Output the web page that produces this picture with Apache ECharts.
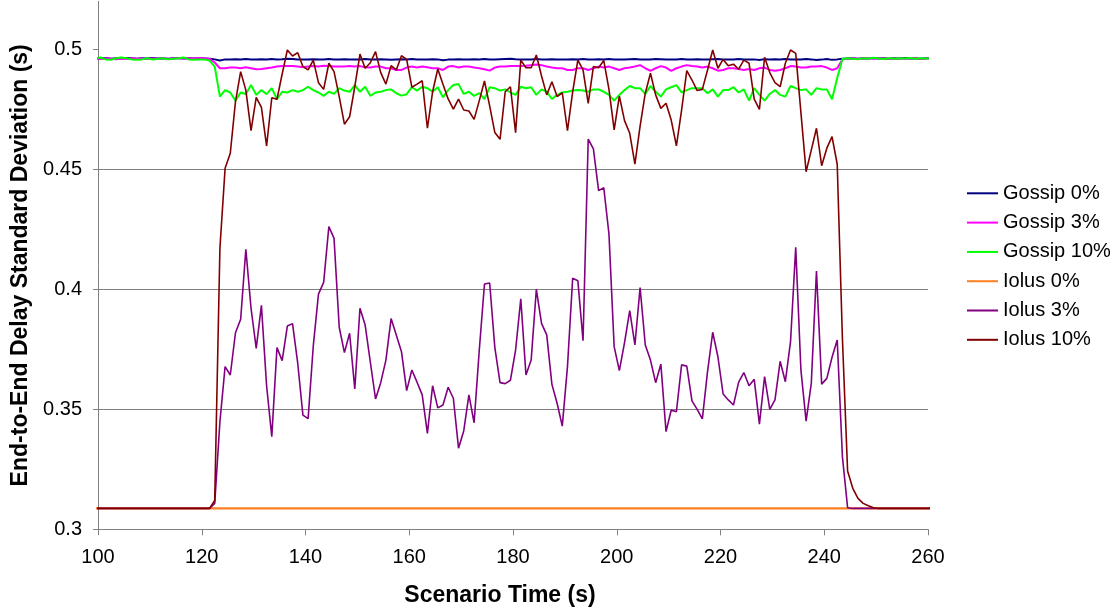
<!DOCTYPE html>
<html><head><meta charset="utf-8">
<script src="https://cdn.jsdelivr.net/npm/echarts@6/dist/echarts.min.js"></script>
<style>html,body{margin:0;padding:0;background:#fff}#c{width:1119px;height:615px}</style>
</head><body><div id="c"></div>
<script>
// sampling: one value per second, first sample at t0
const t0 = 99.5, dt = 1;
const xTicks = [100, 120, 140, 160, 180, 200, 220, 240, 260];
const yTicks = [0.3, 0.35, 0.4, 0.45, 0.5];
const seriesNames = ['Gossip 0%', 'Gossip 3%', 'Gossip 10%', 'Iolus 0%', 'Iolus 3%', 'Iolus 10%'];

const gossip0 = [0.4963,
0.4962,0.4964,0.4961,0.4963,0.4962,0.4964,0.4963,0.4961,0.4963,0.4962,
0.4964,0.4962,0.4963,0.4961,0.4963,0.4964,0.4962,0.4963,0.4962,0.4963,
0.4962,0.4961,0.4958,0.4953,0.4958,0.4957,0.4959,0.4958,0.4960,0.4958,
0.4957,0.4959,0.4958,0.4960,0.4958,0.4959,0.4961,0.4960,0.4958,0.4957,
0.4958,0.4959,0.4957,0.4958,0.4960,0.4958,0.4957,0.4959,0.4958,0.4957,
0.4958,0.4960,0.4958,0.4957,0.4959,0.4958,0.4956,0.4958,0.4959,0.4958,
0.4960,0.4958,0.4957,0.4958,0.4959,0.4958,0.4954,0.4957,0.4958,0.4959,
0.4958,0.4957,0.4959,0.4958,0.4960,0.4958,0.4957,0.4959,0.4960,0.4961,
0.4959,0.4958,0.4957,0.4958,0.4960,0.4958,0.4957,0.4959,0.4958,0.4957,
0.4958,0.4959,0.4958,0.4960,0.4958,0.4957,0.4959,0.4958,0.4960,0.4958,
0.4957,0.4958,0.4959,0.4960,0.4958,0.4957,0.4958,0.4960,0.4959,0.4958,
0.4957,0.4958,0.4960,0.4958,0.4957,0.4959,0.4958,0.4957,0.4959,0.4960,
0.4958,0.4957,0.4958,0.4960,0.4958,0.4957,0.4958,0.4955,0.4959,0.4958,
0.4959,0.4958,0.4960,0.4958,0.4957,0.4958,0.4960,0.4958,0.4955,0.4957,
0.4960,0.4956,0.4958,0.4961,0.4962,0.4963,0.4961,0.4963,0.4962,0.4964,
0.4962,0.4963,0.4961,0.4963,0.4962,0.4964,0.4962,0.4963,0.4961,0.4963,
0.4962];

const gossip3 = [0.4962,
0.4960,0.4963,0.4961,0.4959,0.4962,0.4960,0.4963,0.4961,0.4962,0.4960,
0.4962,0.4961,0.4963,0.4960,0.4962,0.4964,0.4961,0.4963,0.4962,0.4964,
0.4963,0.4960,0.4945,0.4921,0.4921,0.4924,0.4924,0.4921,0.4925,0.4921,
0.4917,0.4918,0.4921,0.4924,0.4928,0.4930,0.4930,0.4930,0.4928,0.4925,
0.4928,0.4930,0.4928,0.4931,0.4930,0.4928,0.4928,0.4928,0.4930,0.4928,
0.4930,0.4925,0.4924,0.4928,0.4928,0.4921,0.4921,0.4914,0.4914,0.4924,
0.4928,0.4924,0.4928,0.4925,0.4921,0.4921,0.4914,0.4928,0.4930,0.4924,
0.4928,0.4928,0.4924,0.4921,0.4917,0.4911,0.4924,0.4928,0.4928,0.4930,
0.4930,0.4930,0.4931,0.4934,0.4937,0.4934,0.4928,0.4924,0.4921,0.4921,
0.4914,0.4914,0.4921,0.4921,0.4914,0.4921,0.4928,0.4924,0.4928,0.4921,
0.4914,0.4921,0.4924,0.4928,0.4934,0.4921,0.4910,0.4921,0.4930,0.4924,
0.4910,0.4921,0.4928,0.4934,0.4930,0.4928,0.4924,0.4928,0.4921,0.4911,
0.4914,0.4921,0.4921,0.4918,0.4914,0.4918,0.4914,0.4921,0.4924,0.4914,
0.4911,0.4914,0.4921,0.4930,0.4928,0.4924,0.4924,0.4928,0.4928,0.4930,
0.4924,0.4914,0.4921,0.4958,0.4961,0.4963,0.4960,0.4962,0.4964,0.4961,
0.4963,0.4961,0.4962,0.4960,0.4963,0.4961,0.4962,0.4964,0.4960,0.4962,
0.4961];

const gossip10 = [0.4963,
0.4966,0.4958,0.4956,0.4963,0.4966,0.4963,0.4958,0.4956,0.4958,0.4963,
0.4958,0.4960,0.4963,0.4958,0.4961,0.4963,0.4966,0.4958,0.4956,0.4958,
0.4958,0.4953,0.4928,0.4803,0.4830,0.4820,0.4786,0.4820,0.4814,0.4851,
0.4810,0.4830,0.4813,0.4838,0.4792,0.4823,0.4820,0.4830,0.4823,0.4830,
0.4844,0.4830,0.4820,0.4806,0.4823,0.4814,0.4838,0.4828,0.4823,0.4851,
0.4823,0.4844,0.4806,0.4820,0.4823,0.4830,0.4833,0.4817,0.4807,0.4813,
0.4842,0.4828,0.4844,0.4838,0.4823,0.4842,0.4800,0.4830,0.4851,0.4855,
0.4814,0.4823,0.4806,0.4817,0.4792,0.4842,0.4838,0.4828,0.4833,0.4820,
0.4810,0.4844,0.4838,0.4842,0.4810,0.4833,0.4823,0.4793,0.4810,0.4820,
0.4823,0.4828,0.4830,0.4828,0.4823,0.4833,0.4833,0.4823,0.4810,0.4786,
0.4810,0.4830,0.4847,0.4838,0.4838,0.4814,0.4847,0.4823,0.4803,0.4833,
0.4842,0.4851,0.4820,0.4830,0.4838,0.4838,0.4838,0.4817,0.4833,0.4803,
0.4830,0.4830,0.4842,0.4820,0.4833,0.4786,0.4838,0.4810,0.4786,0.4814,
0.4830,0.4810,0.4803,0.4847,0.4838,0.4830,0.4833,0.4810,0.4838,0.4833,
0.4833,0.4792,0.4880,0.4960,0.4963,0.4961,0.4958,0.4963,0.4962,0.4965,
0.4962,0.4960,0.4963,0.4961,0.4963,0.4962,0.4964,0.4961,0.4963,0.4962,
0.4962];

const iolus0 = [0.3087,
0.3087,0.3087,0.3087,0.3087,0.3087,0.3087,0.3087,0.3087,0.3087,0.3087,
0.3087,0.3087,0.3087,0.3087,0.3087,0.3087,0.3087,0.3087,0.3087,0.3087,
0.3087,0.3087,0.3087,0.3087,0.3087,0.3087,0.3087,0.3087,0.3087,0.3087,
0.3087,0.3087,0.3087,0.3087,0.3087,0.3087,0.3087,0.3087,0.3087,0.3087,
0.3087,0.3087,0.3087,0.3087,0.3087,0.3087,0.3087,0.3087,0.3087,0.3087,
0.3087,0.3087,0.3087,0.3087,0.3087,0.3087,0.3087,0.3087,0.3087,0.3087,
0.3087,0.3087,0.3087,0.3087,0.3087,0.3087,0.3087,0.3087,0.3087,0.3087,
0.3087,0.3087,0.3087,0.3087,0.3087,0.3087,0.3087,0.3087,0.3087,0.3087,
0.3087,0.3087,0.3087,0.3087,0.3087,0.3087,0.3087,0.3087,0.3087,0.3087,
0.3087,0.3087,0.3087,0.3087,0.3087,0.3087,0.3087,0.3087,0.3087,0.3087,
0.3087,0.3087,0.3087,0.3087,0.3087,0.3087,0.3087,0.3087,0.3087,0.3087,
0.3087,0.3087,0.3087,0.3087,0.3087,0.3087,0.3087,0.3087,0.3087,0.3087,
0.3087,0.3087,0.3087,0.3087,0.3087,0.3087,0.3087,0.3087,0.3087,0.3087,
0.3087,0.3087,0.3087,0.3087,0.3087,0.3087,0.3087,0.3087,0.3087,0.3087,
0.3087,0.3087,0.3087,0.3087,0.3087,0.3087,0.3087,0.3087,0.3087,0.3087,
0.3087,0.3087,0.3087,0.3087,0.3087,0.3087,0.3087,0.3087,0.3087,0.3087,
0.3087];

const iolus3 = [0.3087,
0.3087,0.3087,0.3087,0.3087,0.3087,0.3087,0.3087,0.3087,0.3087,0.3087,
0.3087,0.3087,0.3087,0.3087,0.3087,0.3087,0.3087,0.3087,0.3087,0.3087,
0.3087,0.3087,0.3108,0.3448,0.3678,0.3643,0.3819,0.3875,0.4167,0.3921,
0.3754,0.3933,0.3598,0.3386,0.3757,0.3703,0.3847,0.3857,0.3692,0.3476,
0.3461,0.3764,0.3980,0.4029,0.4261,0.4212,0.3842,0.3736,0.3817,0.3585,
0.3921,0.3851,0.3696,0.3543,0.3611,0.3705,0.3878,0.3810,0.3740,0.3578,
0.3664,0.3613,0.3560,0.3400,0.3598,0.3506,0.3518,0.3592,0.3546,0.3338,
0.3410,0.3560,0.3444,0.3747,0.4022,0.4026,0.3757,0.3611,0.3607,0.3621,
0.3747,0.3960,0.3643,0.3705,0.4000,0.3858,0.3810,0.3604,0.3525,0.3430,
0.3678,0.4046,0.4036,0.3786,0.4626,0.4585,0.4411,0.4423,0.4230,0.3761,
0.3661,0.3778,0.3911,0.3768,0.4007,0.3768,0.3705,0.3611,0.3688,0.3407,
0.3497,0.3490,0.3685,0.3680,0.3535,0.3500,0.3460,0.3657,0.3821,0.3719,
0.3564,0.3539,0.3518,0.3613,0.3653,0.3598,0.3625,0.3438,0.3636,0.3500,
0.3539,0.3700,0.3615,0.3782,0.4175,0.3664,0.3451,0.3608,0.4076,0.3605,
0.3629,0.3717,0.3789,0.3303,0.3090,0.3087,0.3087,0.3087,0.3087,0.3087,
0.3087,0.3087,0.3087,0.3087,0.3087,0.3087,0.3087,0.3087,0.3087,0.3087,
0.3087];

const iolus10 = [0.3087,
0.3087,0.3087,0.3087,0.3087,0.3087,0.3087,0.3087,0.3087,0.3087,0.3087,
0.3087,0.3087,0.3087,0.3087,0.3087,0.3087,0.3087,0.3087,0.3087,0.3087,
0.3087,0.3087,0.3120,0.4171,0.4504,0.4567,0.4782,0.4907,0.4830,0.4661,
0.4800,0.4758,0.4597,0.4798,0.4792,0.4897,0.4997,0.4972,0.4986,0.4928,
0.4914,0.4955,0.4861,0.4833,0.4942,0.4907,0.4803,0.4688,0.4719,0.4844,
0.4980,0.4921,0.4944,0.4990,0.4903,0.4855,0.4932,0.4914,0.4973,0.4958,
0.4842,0.4855,0.4869,0.4671,0.4823,0.4918,0.4854,0.4793,0.4751,0.4792,
0.4747,0.4743,0.4708,0.4786,0.4868,0.4764,0.4653,0.4625,0.4823,0.4844,
0.4653,0.4955,0.4923,0.4923,0.4976,0.4889,0.4810,0.4865,0.4803,0.4819,
0.4661,0.4823,0.4955,0.4914,0.4775,0.4928,0.4923,0.4953,0.4833,0.4664,
0.4805,0.4703,0.4650,0.4522,0.4680,0.4817,0.4900,0.4810,0.4754,0.4775,
0.4705,0.4598,0.4747,0.4911,0.4872,0.4828,0.4833,0.4914,0.4997,0.4921,
0.4958,0.4931,0.4938,0.4917,0.4955,0.4942,0.4792,0.4750,0.4967,0.4903,
0.4861,0.4844,0.4942,0.4997,0.4983,0.4737,0.4490,0.4580,0.4671,0.4515,
0.4588,0.4636,0.4521,0.3796,0.3243,0.3171,0.3129,0.3108,0.3098,0.3090,
0.3087,0.3087,0.3087,0.3087,0.3087,0.3087,0.3087,0.3087,0.3087,0.3087,
0.3087];

const values = [gossip0, gossip3, gossip10, iolus0, iolus3, iolus10];
const colors = ['#000080', '#FF00FF', '#00FF00', '#FF8022', '#800080', '#800000'];
const widths = [2, 2, 2, 2.2, 1.6, 1.6];
const FONT = '"Liberation Sans", Arial, sans-serif';

const chart = echarts.init(document.getElementById('c'), null, {renderer: 'canvas'});
const series = values.map((arr, k) => ({
  name: seriesNames[k],
  type: 'line',
  symbol: 'none',
  clip: true,
  data: arr.map((v, i) => [t0 + i * dt, v]),
  lineStyle: {color: colors[k], width: widths[k]},
  itemStyle: {color: colors[k]},
  emphasis: {disabled: true},
  z: 2 + k
}));

chart.setOption({
  animation: false,
  backgroundColor: '#fff',
  grid: {left: 98, right: 191, top: 1.3, bottom: 85.7, containLabel: false},
  xAxis: {
    type: 'value', min: xTicks[0], max: xTicks[xTicks.length - 1], interval: 20,
    name: 'Scenario Time (s)', nameLocation: 'middle', nameGap: 55,
    nameTextStyle: {fontFamily: FONT, fontWeight: 'bold', fontSize: 23, color: '#000', align: 'center', padding: [0, 26, 0, 0]},
    axisLine: {onZero: false, lineStyle: {color: '#808080', width: 1}},
    axisTick: {length: 6, lineStyle: {color: '#808080', width: 1}},
    axisLabel: {fontFamily: FONT, fontSize: 20, color: '#000', margin: 18},
    splitLine: {show: false}
  },
  yAxis: {
    type: 'value', min: 0.3, max: 0.52, interval: 0.05,
    name: 'End-to-End Delay Standard Deviation (s)', nameLocation: 'middle', nameGap: 66, nameRotate: 90,
    nameTextStyle: {fontFamily: FONT, fontWeight: 'bold', fontSize: 23, color: '#000'},
    axisLine: {show: true, lineStyle: {color: '#808080', width: 1}},
    axisTick: {show: true, length: 5, customValues: yTicks, lineStyle: {color: '#808080', width: 1}},
    axisLabel: {fontFamily: FONT, fontSize: 20, color: '#000', margin: 16, customValues: yTicks,
      formatter: v => String(+v.toFixed(2))},
    splitLine: {show: true, showMaxLine: false, lineStyle: {color: '#808080', width: 1}}
  },
  legend: {
    orient: 'vertical', left: 962, top: 178.3, itemWidth: 31, itemHeight: 2, itemGap: 9.3,
    icon: 'rect',
    data: seriesNames,
    textStyle: {fontFamily: FONT, fontSize: 20, color: '#000', lineHeight: 20},
    selectedMode: false
  },
  series: series
});
</script>
</body></html>
